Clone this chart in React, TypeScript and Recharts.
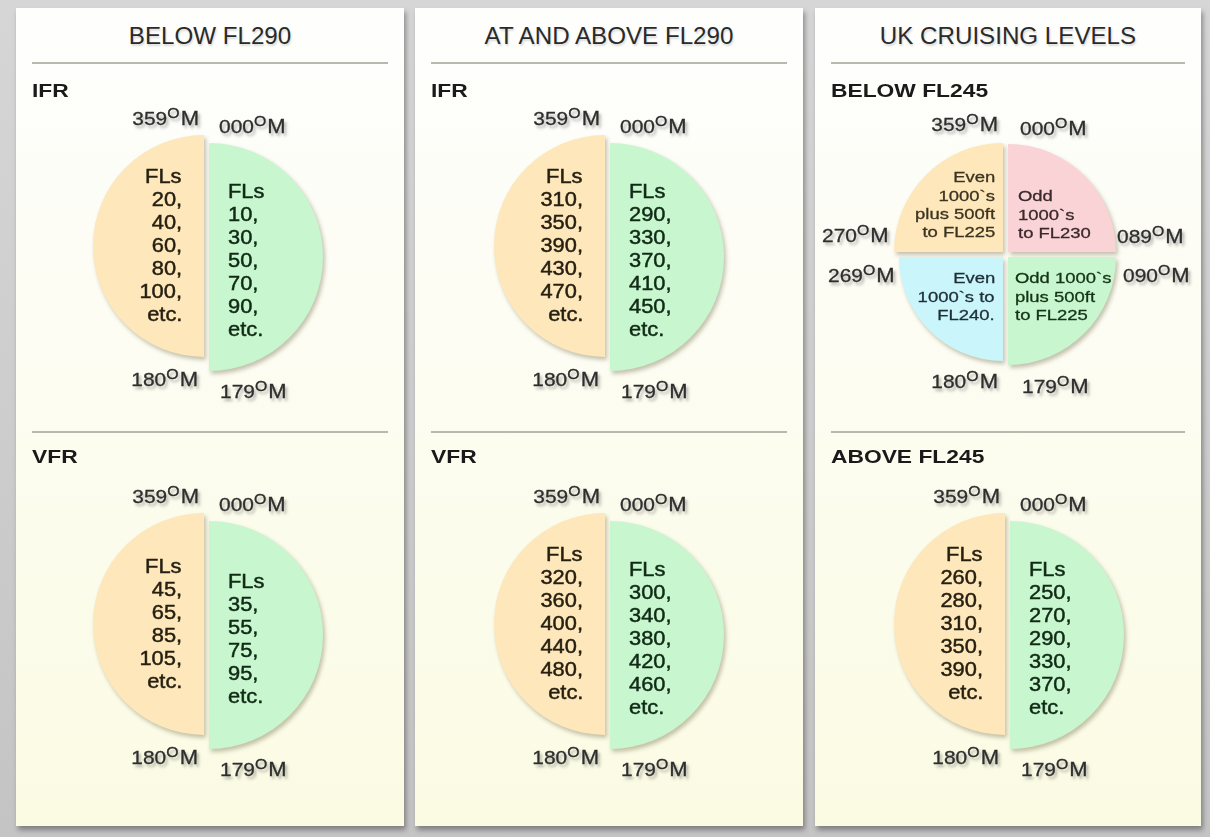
import React from 'react';
import { PieChart, Pie, Cell } from 'recharts';

const W = 1210;
const H = 837;
const FONT = '"Liberation Sans", Arial, Helvetica, sans-serif';

// ---------- data ----------
const panelTitles = ['BELOW FL290', 'AT AND ABOVE FL290', 'UK CRUISING LEVELS'];
const sectionNames = [
  ['IFR', 'VFR'],
  ['IFR', 'VFR'],
  ['BELOW FL245', 'ABOVE FL245'],
];

// magnetic track sectors (degrees)
const halfSectors = [
  { name: '000°M–179°M', span: 180 },
  { name: '180°M–359°M', span: 180 },
];
const quarterSectors = [
  { name: '000°M–089°M', span: 90 },
  { name: '090°M–179°M', span: 90 },
  { name: '180°M–269°M', span: 90 },
  { name: '270°M–359°M', span: 90 },
];

const halfTrackLabels = ['359', '000', '180', '179'];
const quarterTrackLabels = ['359', '000', '270', '089', '269', '090', '180', '179'];

// flight levels (east = 000-179, west = 180-359)
const ifrEastBelow290 = ['10,', '30,', '50,', '70,', '90,'];
const ifrWestBelow290 = ['20,', '40,', '60,', '80,', '100,'];
const vfrEastBelow290 = ['35,', '55,', '75,', '95,'];
const vfrWestBelow290 = ['45,', '65,', '85,', '105,'];
const ifrEastAbove290 = ['290,', '330,', '370,', '410,', '450,'];
const ifrWestAbove290 = ['310,', '350,', '390,', '430,', '470,'];
const vfrEastAbove290 = ['300,', '340,', '380,', '420,', '460,'];
const vfrWestAbove290 = ['320,', '360,', '400,', '440,', '480,'];
const ukEastAbove245 = ['250,', '270,', '290,', '330,', '370,'];
const ukWestAbove245 = ['260,', '280,', '310,', '350,', '390,'];

const ukQuarterText = [
  ['Odd', '1000`s', 'to FL230'],
  ['Odd 1000`s', 'plus 500ft', 'to FL225'],
  ['Even', '1000`s to', 'FL240.'],
  ['Even', '1000`s', 'plus 500ft', 'to FL225'],
];

// ---------- styling / layout ----------
const YELLOW = '#fde7bb';
const GREEN = '#c8f6ce';
const PINK = '#fad3d6';
const BLUE = '#caf5fb';

const panelLefts = [16, 415, 815];
const panelWidths = [388, 388, 386];
const panelTop = 8;
const panelHeight = 818;
const edges = [204, 605, 1005];
const rows = [246, 624];

type Anchor = 'start' | 'middle' | 'end';

function Label(props: {
  x: number;
  y: number;
  anchor?: Anchor;
  size: number;
  weight?: number;
  color?: string;
  k?: number;
  shadow?: string;
  stroke?: number;
  children: React.ReactNode;
}) {
  const { x, y, anchor = 'start', size, weight = 400, color = '#222', k = 1, shadow, stroke = 0, children } = props;
  const style: React.CSSProperties = {
    position: 'absolute',
    top: y - 0.8465 * size,
    whiteSpace: 'nowrap',
    fontSize: size,
    lineHeight: `${size}px`,
    fontWeight: weight,
    color,
    fontFamily: FONT,
    textShadow: shadow,
    WebkitTextStroke: stroke ? `${stroke}px ${color}` : undefined,
  };
  if (anchor === 'start') {
    style.left = x;
    style.transform = `scaleX(${k})`;
    style.transformOrigin = 'left center';
  } else if (anchor === 'end') {
    style.right = W - x;
    style.transform = `scaleX(${k})`;
    style.transformOrigin = 'right center';
  } else {
    style.left = x;
    style.transform = `translateX(-50%) scaleX(${k})`;
    style.transformOrigin = 'center center';
  }
  return <div style={style}>{children}</div>;
}

const DEG_SHADOW = '2px 3px 3px rgba(0,0,0,0.35)';

function Track({ x, y, anchor, deg }: { x: number; y: number; anchor: Anchor; deg: string }) {
  return (
    <Label x={x} y={y} anchor={anchor} size={18.5} color="#2e2e2e" k={1.13} shadow={DEG_SHADOW} stroke={0.3}>
      {deg}
      <span style={{ fontSize: 14, position: 'relative', top: -7 }}>O</span>
      <span style={{ marginLeft: 1, fontSize: 19.5 }}>M</span>
    </Label>
  );
}

function Block({
  x,
  first,
  anchor,
  lines,
  color,
  size = 19.5,
  k = 1.12,
  step = 23,
  stroke = 0.45,
}: {
  x: number;
  first: number;
  anchor: Anchor;
  lines: string[];
  color: string;
  size?: number;
  k?: number;
  step?: number;
  stroke?: number;
}) {
  return (
    <>
      {lines.map((t, i) => (
        <Label key={i} x={x} y={first + i * step} anchor={anchor} size={size} color={color} k={k} stroke={stroke}>
          {t}
        </Label>
      ))}
    </>
  );
}

type HalfDiagram = { panel: number; row: number; east: string[]; west: string[] };

const halfDiagrams: HalfDiagram[] = [
  { panel: 0, row: 0, east: ifrEastBelow290, west: ifrWestBelow290 },
  { panel: 0, row: 1, east: vfrEastBelow290, west: vfrWestBelow290 },
  { panel: 1, row: 0, east: ifrEastAbove290, west: ifrWestAbove290 },
  { panel: 1, row: 1, east: vfrEastAbove290, west: vfrWestAbove290 },
  { panel: 2, row: 1, east: ukEastAbove245, west: ukWestAbove245 },
];

const halfColors = [GREEN, YELLOW];
const quarterColors = [PINK, GREEN, BLUE, YELLOW];
const quarterGeom = [
  { cx: 1008, cy: 252, r: 108 },
  { cx: 1008, cy: 257, r: 108 },
  { cx: 1003, cy: 257, r: 104 },
  { cx: 1003, cy: 252, r: 109 },
];

export default function App() {
  const pies: React.ReactNode[] = [];
  halfDiagrams.forEach((d, di) => {
    const E = edges[d.panel];
    const Y = rows[d.row];
    const geom = [
      { cx: E + 5, cy: Y + 11, r: 114 },
      { cx: E, cy: Y, r: 111 },
    ];
    halfSectors.forEach((_, si) => {
      pies.push(
        <Pie
          key={`h${di}-${si}`}
          data={halfSectors}
          dataKey="span"
          nameKey="name"
          cx={geom[si].cx}
          cy={geom[si].cy}
          innerRadius={0}
          outerRadius={geom[si].r}
          startAngle={90}
          endAngle={-270}
          stroke="none"
          isAnimationActive={false}
          legendType="none"
        >
          {halfSectors.map((__, ci) => (
            <Cell key={ci} fill={ci === si ? halfColors[si] : 'none'} stroke="none" />
          ))}
        </Pie>
      );
    });
  });
  quarterSectors.forEach((_, si) => {
    pies.push(
      <Pie
        key={`q${si}`}
        data={quarterSectors}
        dataKey="span"
        nameKey="name"
        cx={quarterGeom[si].cx}
        cy={quarterGeom[si].cy}
        innerRadius={0}
        outerRadius={quarterGeom[si].r}
        startAngle={90}
        endAngle={-270}
        stroke="none"
        isAnimationActive={false}
        legendType="none"
      >
        {quarterSectors.map((__, ci) => (
          <Cell key={ci} fill={ci === si ? quarterColors[si] : 'none'} stroke="none" />
        ))}
      </Pie>
    );
  });

  const labels: React.ReactNode[] = [];
  panelTitles.forEach((t, p) => {
    const cx = panelLefts[p] + panelWidths[p] / 2;
    labels.push(
      <Label key={`t${p}`} x={cx} y={44} anchor="middle" size={23} color="#2a2a2a" k={1.05} shadow="1px 2px 2px rgba(0,0,0,0.15)">
        {t}
      </Label>
    );
    sectionNames[p].forEach((s, r) => {
      labels.push(
        <Label key={`s${p}-${r}`} x={panelLefts[p] + 16} y={r === 0 ? 97 : 463} size={19} weight={700} color="#1a1a1a" k={1.2}>
          {s}
        </Label>
      );
    });
  });

  halfDiagrams.forEach((d, di) => {
    const E = edges[d.panel];
    const Y = rows[d.row];
    const west = ['FLs', ...d.west, 'etc.'];
    const east = ['FLs', ...d.east, 'etc.'];
    labels.push(
      <Block key={`w${di}`} x={E - 22} first={Y + 7 - ((west.length - 1) * 23) / 2} anchor="end" lines={west} color="#241f10" />
    );
    labels.push(
      <Block key={`e${di}`} x={E + 24} first={Y + 22 - ((east.length - 1) * 23) / 2} anchor="start" lines={east} color="#102a16" />
    );
    const [l359, l000, l180, l179] = halfTrackLabels;
    labels.push(<Track key={`a${di}`} x={E - 5} y={Y - 121} anchor="end" deg={l359} />);
    labels.push(<Track key={`b${di}`} x={E + 15} y={Y - 113} anchor="start" deg={l000} />);
    labels.push(<Track key={`c${di}`} x={E - 6} y={Y + 140} anchor="end" deg={l180} />);
    labels.push(<Track key={`d${di}`} x={E + 16} y={Y + 152} anchor="start" deg={l179} />);
  });

  const qPos: { x: number; y: number; anchor: Anchor }[] = [
    { x: 998, y: 131, anchor: 'end' },
    { x: 1020, y: 135, anchor: 'start' },
    { x: 822, y: 242, anchor: 'start' },
    { x: 1117, y: 243, anchor: 'start' },
    { x: 828, y: 282, anchor: 'start' },
    { x: 1123, y: 282, anchor: 'start' },
    { x: 998, y: 388, anchor: 'end' },
    { x: 1022, y: 393, anchor: 'start' },
  ];
  quarterTrackLabels.forEach((deg, i) => {
    labels.push(<Track key={`q${i}`} x={qPos[i].x} y={qPos[i].y} anchor={qPos[i].anchor} deg={deg} />);
  });
  const qText: { x: number; first: number; anchor: Anchor; color: string }[] = [
    { x: 1018, first: 201, anchor: 'start', color: '#3a2a2c' },
    { x: 1015, first: 283, anchor: 'start', color: '#143418' },
    { x: 995, first: 283, anchor: 'end', color: '#1f2f36' },
    { x: 995, first: 182, anchor: 'end', color: '#3a3320' },
  ];
  ukQuarterText.forEach((lines, i) => {
    labels.push(
      <Block
        key={`qt${i}`}
        x={qText[i].x}
        first={qText[i].first}
        anchor={qText[i].anchor}
        lines={lines}
        color={qText[i].color}
        size={15}
        k={1.23}
        step={18.3}
        stroke={0.3}
      />
    );
  });

  return (
    <div
      style={{
        position: 'absolute',
        left: 0,
        top: 0,
        width: W,
        height: H,
        overflow: 'hidden',
        background: 'linear-gradient(#d6d6d6, #c4c4c4)',
        fontFamily: FONT,
      }}
    >
      {panelLefts.map((l, p) => (
        <div
          key={`p${p}`}
          style={{
            position: 'absolute',
            left: l,
            top: panelTop,
            width: panelWidths[p],
            height: panelHeight,
            background: 'linear-gradient(#fefefd, #fbfbe4)',
            boxShadow: '2px 4px 5px rgba(0,0,0,0.35)',
          }}
        />
      ))}
      {panelLefts.map((l, p) =>
        [62, 431].map((y) => (
          <div
            key={`sep${p}-${y}`}
            style={{
              position: 'absolute',
              left: l + 16,
              top: y,
              width: panelWidths[p] - 32,
              height: 2,
              background: '#b8b8ad',
            }}
          />
        ))
      )}
      <div
        style={{
          position: 'absolute',
          left: 0,
          top: 0,
          filter: 'drop-shadow(2px 3px 2px rgba(90,80,40,0.35))',
        }}
      >
        <PieChart width={W} height={H} margin={{ top: 0, right: 0, bottom: 0, left: 0 }}>
          {pies}
        </PieChart>
      </div>
      {labels}
    </div>
  );
}
